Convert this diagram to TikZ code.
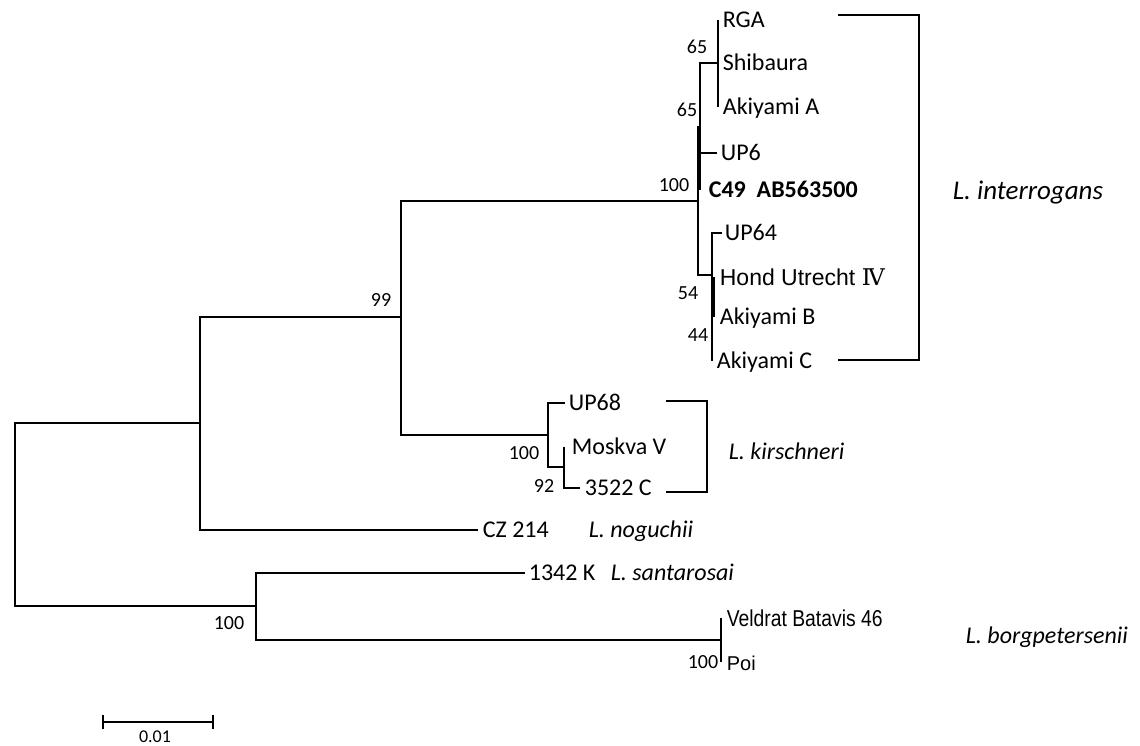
\documentclass[tikz,border=0pt]{standalone}
\usepackage{fontspec}
\setmainfont{Carlito}
\newfontfamily\arialfont{Liberation Sans}
\newfontfamily\numeralfont{DejaVu Serif}
\usetikzlibrary{positioning}
\newcommand\ptsize[1]{\fontsize{#1}{#1}\selectfont}

\begin{document}
\begin{tikzpicture}
[x=1pt, y=-1pt, line width=1.7pt]
\tikzstyle{leaf}=[inner sep=0pt, font=\ptsize{24}, text height=17pt, text depth=2pt]
\tikzstyle{arialleaf}=[inner sep=0pt, font=\ptsize{23}\arialfont, text height=18pt, text depth=2pt]
\tikzstyle{boot}=[inner sep=0pt, font=\ptsize{20}]
\tikzstyle{species}=[inner sep=0pt, font=\ptsize{24}\itshape, text height=17pt, text depth=2pt]
\useasboundingbox (0,0) rectangle (1140,746);

% internal nodes
\coordinate (R0)   at (15,514);
\coordinate (N1)   at (200,423);
\coordinate (N99)  at (401,317);
\coordinate (NInt) at (698,201);
\coordinate (NB)   at (700,127);
\coordinate (NC)   at (718,63);
\coordinate (ND)   at (712,275);
\coordinate (NE)   at (714,297);
\coordinate (NK)   at (548,435);
\coordinate (NM)   at (564,467);
\coordinate (NS)   at (256,606);
\coordinate (NV)   at (721,640);

% tips
\coordinate (RGA)  at (718,20);
\coordinate (Shib) at (718,63);
\coordinate (AkA)  at (718,107);
\coordinate (UP6)  at (717,153);
\coordinate (C49)  at (700,190);
\coordinate (UP64) at (722,233);
\coordinate (Hond) at (714,277);
\coordinate (AkB)  at (714,317);
\coordinate (AkC)  at (712,361);
\coordinate (UP68) at (565,403);
\coordinate (Mosk) at (564,447);
\coordinate (K3522) at (580,488);
\coordinate (CZ)   at (478,530);
\coordinate (K1342) at (525,573);
\coordinate (Veld) at (721,618);
\coordinate (Poi)  at (721,662);

% branches
\draw (R0) |- (N1);  \draw (R0) |- (NS);
\draw (N1) |- (N99); \draw (N1) |- (CZ);
\draw (N99) |- (NInt); \draw (N99) |- (NK);
\draw (NInt) |- (NB); \draw (NInt) |- (ND);
\draw (NB) |- (NC); \draw (NB) |- (UP6); \draw (NB) |- (C49);
\draw (NC) |- (RGA); \draw (NC) |- (Shib); \draw (NC) |- (AkA);
\draw (ND) |- (UP64); \draw (ND) |- (AkC); \draw (ND) |- (NE);
\draw (NE) |- (Hond); \draw (NE) |- (AkB);
\draw (NK) |- (UP68); \draw (NK) |- (NM);
\draw (NM) |- (Mosk); \draw (NM) |- (K3522);
\draw (NS) |- (K1342); \draw (NS) |- (NV);
\draw (NV) |- (Veld); \draw (NV) |- (Poi);

% leaf labels
\node[leaf, right=4pt of RGA]  (RGAt)  {RGA};
\node[leaf, right=4pt of Shib] (Shibt) {Shibaura};
\node[leaf, right=4pt of AkA]  (AkAt)  {Akiyami A};
\node[leaf, right=3pt of UP6]  (UP6t)  {UP6};
\node[leaf, right=8pt of C49, font=\ptsize{24}\bfseries] (C49t) {C49\ \ AB563500};
\node[leaf, right=2pt of UP64] (UP64t) {UP64};
\node[arialleaf, right=5pt of Hond] (Hondt) {Hond Utrecht {\numeralfont Ⅳ}};
\node[leaf, right=5pt of AkB]  (AkBt)  {Akiyami B};
\node[leaf, right=4pt of AkC]  (AkCt)  {Akiyami C};
\node[leaf, right=3pt of UP68] (UP68t) {UP68};
\node[leaf, right=7pt of Mosk] (Moskt) {Moskva V};
\node[leaf, right=4pt of K3522] (K3522t) {3522 C};
\node[leaf, right=4pt of CZ]   (CZt)   {CZ 214};
\node[leaf, right=3pt of K1342] (K1342t) {1342 K};
\node[arialleaf, right=5pt of Veld] (Veldt) {\scalebox{0.84}[1]{Veldrat Batavis 46}};
\node[arialleaf, right=5pt of Poi, font=\ptsize{20}\arialfont]  (Poit)  {Poi};

% bootstrap values
\node[boot] (b99)   at (381,300) {99};
\node[boot] (bInt)  at (674,185) {100};
\node[boot] (bC)    at (697,47)  {65};
\node[boot] (bB)    at (687,110) {65};
\node[boot] (bE)    at (688,293) {54};
\node[boot] (bD)    at (698,335) {44};
\node[boot] (bK)    at (524,453) {100};
\node[boot] (bM)    at (544,486) {92};
\node[boot] (bS)    at (229,623) {100};
\node[boot] (bV)    at (703,662) {100};

% species brackets
\coordinate (BI1) at (838,15);  \coordinate (BI2) at (919,360);
\coordinate (BK1) at (666,401); \coordinate (BK2) at (707,492);
\draw (BI1) -| (BI2) -- (BI2 -| BI1);
\draw (BK1) -| (BK2) -- (BK2 -| BK1);

% species names
\node[species, anchor=west, font=\ptsize{27}\itshape] (Linter) at (952,192) {L. interrogans};
\node[species, anchor=west] (Lkirs)  at (728,452) {L. kirschneri};
\node[species, anchor=west] (Lnog)   at (588,530) {L. noguchii};
\node[species, anchor=west] (Lsant)  at (610,573) {L. santarosai};
\node[species, anchor=west] (Lborg)  at (965,636) {L. borgpetersenii};

% scale bar
\coordinate (S0) at (103,722); \coordinate (S1) at (213,722);
\draw (S0) -- (S1);
\draw ([yshift=7pt]S0) -- ([yshift=-7pt]S0);
\draw ([yshift=7pt]S1) -- ([yshift=-7pt]S1);
\node[boot, font=\ptsize{18}] (Sbar) at (155,737) {0.01};
\end{tikzpicture}
\end{document}
